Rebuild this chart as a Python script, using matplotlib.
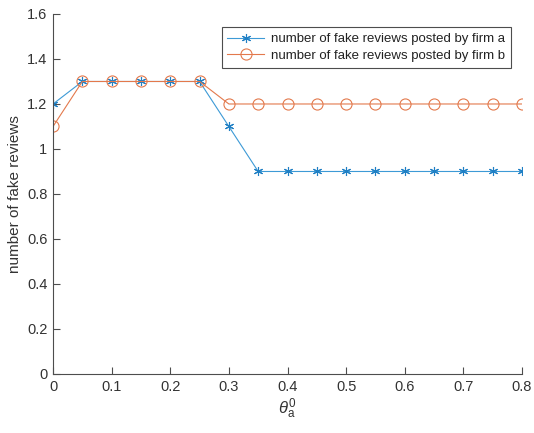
import matplotlib
matplotlib.use("Agg")
import matplotlib.pyplot as plt

plt.rcParams['font.family'] = ['Liberation Sans', 'DejaVu Sans']
plt.rcParams['mathtext.fontset'] = 'custom'
plt.rcParams['mathtext.rm'] = 'Liberation Sans'
plt.rcParams['mathtext.it'] = 'Liberation Sans:italic'

theta = [0, 0.05, 0.1, 0.15, 0.2, 0.25, 0.3, 0.35, 0.4, 0.45, 0.5,
         0.55, 0.6, 0.65, 0.7, 0.75, 0.8]
firm_a = [1.2, 1.3, 1.3, 1.3, 1.3, 1.3, 1.1, 0.9, 0.9, 0.9, 0.9,
          0.9, 0.9, 0.9, 0.9, 0.9, 0.9]
firm_b = [1.1, 1.3, 1.3, 1.3, 1.3, 1.3, 1.2, 1.2, 1.2, 1.2, 1.2,
          1.2, 1.2, 1.2, 1.2, 1.2, 1.2]
xticks = [0, 0.1, 0.2, 0.3, 0.4, 0.5, 0.6, 0.7, 0.8]
yticks = [0, 0.2, 0.4, 0.6, 0.8, 1, 1.2, 1.4, 1.6]

blue = '#3D9AD6'
orange = '#E3794C'
axis_col = '#4D4D4D'

fig = plt.figure(figsize=(5.34, 4.33), dpi=100)
ax = fig.add_axes([0.0993, 0.1363, 0.8782, 0.8314])

ax.plot(theta, firm_a, color=blue, lw=0.8, marker=(6, 2, 0), markersize=6.5,
        markeredgecolor='#1F7FC4', markeredgewidth=0.8,
        label='number of fake reviews posted by firm a')
ax.plot(theta, firm_b, color=orange, lw=0.8, marker='o', markersize=8,
        markerfacecolor='none', markeredgewidth=0.8,
        label='number of fake reviews posted by firm b')

ax.set_xlim(0, 0.8)
ax.set_ylim(0, 1.6)
ax.set_xticks(xticks)
ax.set_xticklabels([f'{v:g}' for v in xticks])
ax.set_yticks(yticks)
ax.set_yticklabels([f'{v:g}' for v in yticks])

for s in ['top', 'right']:
    ax.spines[s].set_visible(False)
for s in ['left', 'bottom']:
    ax.spines[s].set_color(axis_col)
    ax.spines[s].set_linewidth(0.8)
ax.tick_params(direction='in', length=5, width=0.8, colors=axis_col,
               labelsize=10.5, labelcolor='#333333', pad=4)

ax.set_xlabel(r'$\theta_{\mathrm{a}}^{0}$', fontsize=12, color='#333333', labelpad=2)
ax.set_ylabel('number of fake reviews', fontsize=11, color='#333333', labelpad=4)

leg = ax.legend(loc='upper right', bbox_to_anchor=(0.9765, 0.964), borderaxespad=0,
                fontsize=9.5, fancybox=False, framealpha=1, edgecolor=axis_col,
                handlelength=2.8, borderpad=0.45, labelspacing=0.35,
                handletextpad=0.5)
leg.get_frame().set_linewidth(0.8)
for t in leg.get_texts():
    t.set_color('#222222')

fig.savefig('out.png', dpi=100)
